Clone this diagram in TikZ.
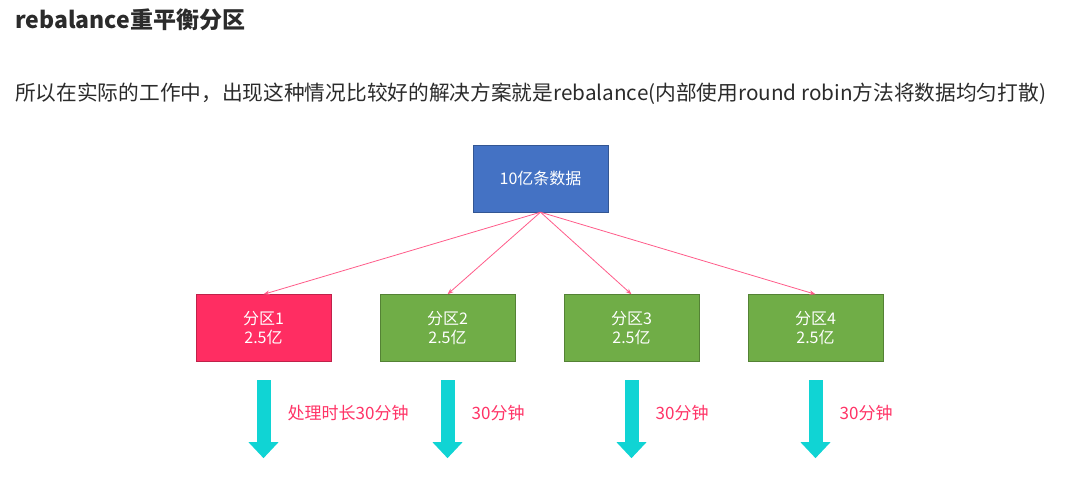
\documentclass[tikz,border=0pt]{standalone}
\usepackage{fontspec}
\setmainfont{Noto Sans CJK SC}
\usetikzlibrary{positioning,calc,arrows.meta}
\usepackage{xcolor}
\definecolor{srcblue}{HTML}{4472C4}
\definecolor{hotred}{HTML}{FF2D62}
\definecolor{okgreen}{HTML}{70AD47}
\definecolor{linkpink}{HTML}{FF5C8A}
\definecolor{flowcyan}{HTML}{10D4D4}
\definecolor{notered}{HTML}{FF3366}
\definecolor{inkgray}{HTML}{2B2B2B}

\begin{document}
\begin{tikzpicture}[x=1pt,y=-1pt,
  blk/.style={draw=#1!75!black, fill=#1, text=white, minimum width=135pt, minimum height=67pt,
    inner sep=0pt, align=center, font=\fontsize{16}{19}\selectfont},
  link/.style={draw=linkpink, line width=0.8pt, -{Stealth[length=6pt,width=4.5pt]}},
  fat/.style={draw=flowcyan, line width=14pt, -{Triangle[length=16pt,width=29pt]}},
  note/.style={text=notered, anchor=west, inner sep=0pt, font=\fontsize{17}{20}\selectfont}]
  \useasboundingbox (0,0) rectangle (1082,486);

  \node[anchor=base west, inner sep=0pt, text=inkgray, font=\bfseries\fontsize{23}{27}\selectfont]
    (title) at (15,29) {rebalance重平衡分区};
  \node[anchor=base west, inner sep=0pt, text=inkgray, font=\fontsize{20.7}{24}\selectfont]
    (lead) at (15,101) {所以在实际的工作中，出现这种情况比较好的解决方案就是rebalance(内部使用round robin方法将数据均匀打散)};

  \node[blk=srcblue] (src) at (540.5,178.5) {10亿条数据};
  \node[blk=hotred] (p1) at (263.5,328) {分区1\\2.5亿};
  \node[blk=okgreen] (p2) at (447.5,328) {分区2\\2.5亿};
  \node[blk=okgreen] (p3) at (631.5,328) {分区3\\2.5亿};
  \node[blk=okgreen] (p4) at (815.5,328) {分区4\\2.5亿};

  % fan out from the source, then one fat arrow under each partition
  \foreach \i/\t in {1/处理时长30分钟,2/30分钟,3/30分钟,4/30分钟}{
    \draw[link] (src.south) -- (p\i.north);
    \coordinate (t\i) at ($(p\i.south)+(0,18.5)$);
    \coordinate (b\i) at ($(p\i.south)+(0,96.5)$);
    \draw[fat] (t\i) -- (b\i);
    \node[note] (n\i) at ($(t\i)+(24,33)$) {\t};
  }
\end{tikzpicture}
\end{document}
